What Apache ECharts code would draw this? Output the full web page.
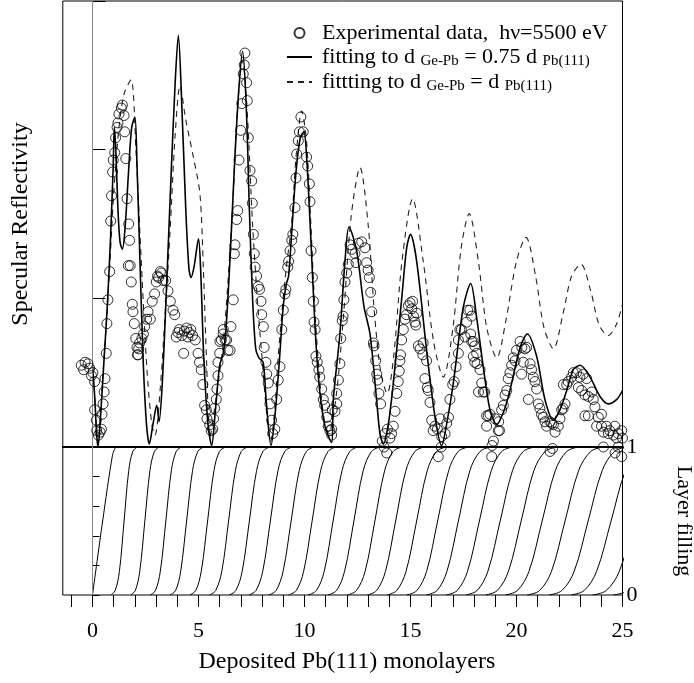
<!DOCTYPE html>
<html><head><meta charset="utf-8">
<script src="https://cdn.jsdelivr.net/npm/echarts@6/dist/echarts.min.js"></script>
<style>html,body{margin:0;padding:0;background:#fff}#c{width:694px;height:683px}</style>
</head><body><div id="c"></div>
<script>
const FONT = "'Liberation Serif','Times New Roman',serif";
const xTickLabels = [0, 5, 10, 15, 20, 25];
const fillTickLabels = [0, 1];

const nameExp = 'Experimental data,  hν=5500 eV';
const nameFit1 = 'fitting to d Ge-Pb = 0.75 d Pb(111)';
const nameFit2 = 'fittting to d Ge-Pb = d Pb(111)';

const experimental = [
[-0.53,0.55],[-0.42,0.52],[-0.35,0.57],[-0.21,0.56],[-0.13,0.53],[-0.05,0.48],[0.02,0.50],[0.10,0.44],
[0.10,0.25],[0.18,0.18],[0.20,0.11],[0.28,0.08],[0.36,0.10],[0.42,0.12],[0.45,0.22],[0.50,0.29],[0.55,0.37],[0.59,0.46],
[0.65,0.63],[0.68,0.83],[0.73,0.99],[0.81,1.18],[0.86,1.52],[0.90,1.69],[0.95,1.85],[0.98,1.93],[1.05,1.98],[1.09,2.08],
[1.16,2.15],[1.20,2.18],[1.25,2.24],[1.36,2.28],[1.41,2.30],[1.49,2.23],[1.52,2.12],[1.57,1.94],[1.63,1.67],[1.69,1.22],
[1.71,1.50],[1.75,1.39],[1.78,1.22],[1.83,1.11],[1.88,0.96],[1.91,0.91],[1.97,0.83],[2.04,0.73],[2.10,0.67],[2.12,0.62],
[2.15,0.62],[2.18,0.66],[2.22,0.70],[2.33,0.73],[2.40,0.76],[2.46,0.81],[2.55,0.86],[2.62,0.91],[2.73,0.86],[2.82,0.98],
[2.93,1.03],[3.01,1.11],[3.07,1.15],[3.12,1.14],[3.20,1.18],[3.25,1.17],[3.33,1.12],[3.45,1.12],[3.56,1.05],[3.67,0.98],
[3.80,0.92],[3.88,0.89],[3.95,0.74],[4.03,0.77],[4.10,0.79],[4.22,0.75],[4.30,0.63],[4.33,0.78],[4.44,0.80],[4.50,0.74],
[4.56,0.77],[4.64,0.79],[4.72,0.75],[4.85,0.72],[4.98,0.63],[5.05,0.57],[5.13,0.52],[5.21,0.42],[5.29,0.28],[5.37,0.25],
[5.40,0.19],[5.53,0.15],[5.60,0.11],[5.67,0.12],[5.71,0.19],[5.76,0.26],[5.84,0.32],[5.87,0.39],[5.92,0.48],[5.92,0.57],
[6.00,0.63],[6.01,0.71],[6.08,0.72],[6.16,0.76],[6.17,0.79],[6.26,0.72],[6.33,0.72],[6.39,0.65],[6.49,0.65],[6.53,0.81],
[6.64,0.99],[6.69,1.30],[6.72,1.36],[6.80,1.53],[6.85,1.59],[6.91,1.93],[6.99,2.13],[7.04,2.31],[7.11,2.51],[7.16,2.57],
[7.19,2.65],[7.27,2.45],[7.30,2.33],[7.35,2.08],[7.43,1.86],[7.51,1.79],[7.54,1.64],[7.59,1.43],[7.63,1.30],[7.67,1.21],
[7.74,1.15],[7.82,1.08],[7.88,1.06],[7.95,0.98],[7.98,0.89],[8.06,0.81],[8.10,0.67],[8.18,0.57],[8.22,0.49],[8.29,0.43],
[8.37,0.29],[8.45,0.18],[8.50,0.09],[8.60,0.12],[8.69,0.32],[8.76,0.45],[8.84,0.54],[8.93,0.79],[9.00,0.92],[9.08,1.03],
[9.12,1.06],[9.21,1.21],[9.25,1.25],[9.32,1.32],[9.40,1.39],[9.45,1.43],[9.55,1.61],[9.60,1.81],[9.63,1.97],[9.71,2.06],
[9.76,2.12],[9.83,2.22],[9.94,2.12],[10.10,1.95],[10.15,1.89],[10.23,1.77],[10.26,1.65],[10.31,1.32],[10.37,1.14],[10.42,0.98],
[10.45,0.84],[10.50,0.79],[10.54,0.61],[10.60,0.57],[10.68,0.52],[10.72,0.47],[10.81,0.39],[10.89,0.32],[10.95,0.28],[11.05,0.20],
[11.12,0.14],[11.20,0.11],[11.28,0.08],[11.31,0.25],[11.28,0.12],[11.44,0.24],[11.52,0.29],[11.52,0.36],[11.60,0.45],[11.67,0.56],
[11.71,0.73],[11.78,0.85],[11.82,0.88],[11.86,0.99],[11.91,1.11],[11.99,1.17],[12.07,1.23],[12.15,1.36],[12.23,1.33],[12.38,1.30],
[12.43,1.24],[12.54,1.37],[12.70,1.38],[12.85,1.34],[12.93,1.24],[13.00,1.19],[13.06,1.14],[13.12,1.04],[13.17,0.91],[13.25,0.70],
[13.28,0.68],[13.36,0.58],[13.41,0.49],[13.45,0.45],[13.51,0.36],[13.59,0.29],[13.67,0.04],[13.75,0.00],[13.80,0.09],[13.88,-0.04],
[13.91,0.12],[14.03,0.06],[14.11,0.09],[14.19,0.14],[14.27,0.24],[14.35,0.36],[14.42,0.44],[14.47,0.51],[14.50,0.58],[14.53,0.62],
[14.58,0.72],[14.66,0.79],[14.74,0.86],[14.81,0.89],[14.90,0.95],[14.98,0.97],[15.06,0.93],[15.10,0.98],[15.14,0.88],[15.21,0.84],
[15.25,0.82],[15.30,0.90],[15.37,0.68],[15.45,0.66],[15.58,0.62],[15.60,0.70],[15.68,0.46],[15.76,0.58],[15.79,0.40],[15.84,0.38],
[15.92,0.30],[16.00,0.18],[16.07,0.11],[16.15,0.14],[16.27,0.12],[16.31,-0.065],[16.40,0.19],[16.45,0.00],[16.47,0.07],[16.63,0.09],
[16.71,0.16],[16.79,0.20],[16.86,0.32],[16.99,0.42],[17.06,0.44],[17.15,0.54],[17.26,0.63],[17.26,0.72],[17.33,0.79],[17.40,0.79],
[17.57,0.74],[17.65,0.84],[17.70,0.92],[17.80,0.92],[17.84,0.76],[17.88,0.88],[17.89,0.71],[17.96,0.71],[17.96,0.61],[18.03,0.68],
[18.03,0.57],[18.12,0.63],[18.14,0.56],[18.21,0.37],[18.28,0.52],[18.36,0.43],[18.43,0.37],[18.50,0.37],[18.59,0.21],[18.67,0.21],
[18.75,0.22],[18.59,0.14],[18.83,-0.065],[18.85,0.01],[18.91,0.04],[19.00,0.19],[19.16,0.17],[19.14,0.11],[19.20,0.11],[19.30,0.25],
[19.38,0.28],[19.46,0.35],[19.54,0.38],[19.61,0.46],[19.69,0.50],[19.77,0.55],[19.85,0.60],[19.93,0.58],[20.00,0.65],[20.17,0.71],
[20.25,0.67],[20.32,0.57],[20.40,0.66],[20.48,0.67],[20.24,0.49],[20.64,0.56],[20.71,0.52],[20.79,0.47],[20.87,0.44],[20.95,0.39],
[20.56,0.32],[21.03,0.29],[21.10,0.26],[21.18,0.22],[21.26,0.20],[21.34,0.17],[21.42,0.14],[21.58,0.17],[21.58,-0.03],[21.66,0.16],
[21.70,-0.01],[21.74,0.15],[21.82,0.10],[21.97,0.14],[22.05,0.19],[22.13,0.25],[22.20,0.26],[22.29,0.29],[22.21,0.42],[22.37,0.42],
[22.44,0.44],[22.60,0.47],[22.68,0.50],[22.83,0.50],[22.99,0.47],[23.15,0.49],[23.31,0.46],[22.92,0.40],[23.07,0.38],[23.23,0.35],
[23.39,0.34],[23.55,0.37],[23.23,0.21],[23.39,0.21],[23.62,0.32],[23.70,0.27],[23.86,0.20],[24.01,0.22],[23.78,0.14],[24.01,0.14],
[24.10,0.10],[24.10,0.00],[24.25,0.14],[24.33,0.09],[24.40,0.11],[24.57,0.08],[24.64,0.14],[24.65,-0.04],[24.72,0.06],[24.80,0.09],
[24.80,0.00],[24.96,0.11],[24.96,-0.065],[25.00,0.06]
];

const fitSolid = [
[0,0.55],[0.1,0.35],[0.2,0.08],[0.26,0.0],[0.4,0.25],[0.55,0.6],[0.7,0.95],[0.85,1.4],[0.98,1.9],[1.03,2.15],
[1.1,2.0],[1.2,1.6],[1.3,1.38],[1.41,1.33],[1.55,1.5],[1.7,1.85],[1.85,2.15],[2.0,2.22],[2.1,1.9],[2.25,1.2],
[2.4,0.55],[2.55,0.15],[2.68,0.02],[2.85,0.15],[3.03,0.28],[3.14,0.17],[3.3,0.45],[3.5,1.1],[3.7,1.8],[3.9,2.45],
[4.05,2.77],[4.2,2.35],[4.4,1.6],[4.55,1.2],[4.65,1.14],[4.8,1.22],[5.0,1.40],[5.1,1.2],[5.25,0.6],[5.45,0.15],
[5.62,0.01],[5.8,0.25],[6.0,0.55],[6.17,0.63],[6.3,0.8],[6.5,1.3],[6.7,1.9],[6.9,2.4],[7.08,2.66],[7.25,2.3],
[7.4,1.6],[7.55,1.0],[7.7,0.66],[7.85,0.6],[8.05,0.57],[8.2,0.3],[8.42,0.01],[8.6,0.2],[8.8,0.55],[9.0,0.95],
[9.15,1.1],[9.25,1.15],[9.4,1.45],[9.6,1.85],[9.8,2.08],[9.97,2.12],[10.1,1.95],[10.3,1.4],[10.5,0.8],[10.7,0.4],
[10.95,0.15],[11.28,0.03],[11.36,0.32],[11.67,0.76],[11.91,1.25],[12.1,1.48],[12.46,1.32],[12.8,0.95],[13.09,0.76],[13.4,0.32],
[13.56,0.09],[13.72,0.02],[13.95,0.15],[14.19,0.43],[14.58,0.99],[14.82,1.34],[15.0,1.43],[15.29,1.25],[15.76,0.65],[16.16,0.2],
[16.47,0.01],[16.7,0.15],[17.02,0.43],[17.49,0.94],[17.84,1.10],[18.12,0.87],[18.43,0.54],[18.75,0.25],[19.07,0.15],[19.4,0.24],
[19.69,0.38],[20.17,0.67],[20.51,0.76],[20.95,0.61],[21.34,0.32],[21.74,0.18],[22.05,0.25],[22.37,0.38],[22.68,0.52],[23.0,0.55],
[23.47,0.47],[23.94,0.34],[24.33,0.29],[24.73,0.32],[25.0,0.38]
];

const fitDashed = [
[0,0.55],[0.1,0.35],[0.25,0.02],[0.5,0.5],[0.75,1.05],[1.0,1.7],[1.25,2.15],[1.5,2.38],[1.82,2.47],[2.05,2.0],
[2.24,1.43],[2.56,0.54],[2.8,0.15],[2.95,0.08],[3.2,0.4],[3.45,0.95],[3.66,1.45],[3.9,2.1],[4.13,2.43],[4.4,2.2],
[4.76,1.95],[5.07,1.7],[5.23,1.2],[5.39,0.54],[5.54,0.07],[5.8,0.3],[6.2,0.75],[6.6,1.6],[6.85,2.3],[7.08,2.6],
[7.3,2.25],[7.55,1.5],[7.8,0.95],[7.98,0.63],[8.2,0.25],[8.4,0.04],[8.6,0.25],[8.77,0.63],[9.1,1.15],[9.4,1.52],
[9.6,1.95],[9.87,2.26],[10.1,2.05],[10.3,1.5],[10.5,0.9],[10.75,0.4],[11.0,0.12],[11.15,0.1],[11.5,0.35],[11.85,0.9],
[12.2,1.55],[12.62,1.88],[13.0,1.5],[13.3,0.9],[13.6,0.5],[13.9,0.36],[14.2,0.6],[14.6,1.25],[15.1,1.67],[15.6,1.25],
[16.1,0.7],[16.55,0.47],[17.0,0.8],[17.4,1.35],[17.77,1.57],[18.2,1.25],[18.6,0.8],[19.07,0.6],[19.5,0.85],[20.0,1.25],
[20.45,1.41],[20.9,1.15],[21.3,0.8],[21.74,0.66],[22.2,0.9],[22.6,1.15],[23.04,1.23],[23.5,1.05],[23.9,0.82],[24.33,0.75],
[24.7,0.82],[25.0,0.96]
];

// layer filling: first layer, then x positions where each later layer reaches the fill levels below
const layerFirst = [[0,0],[0.48,0.5],[0.95,0.95],[1.1,1]];
const layerFillLevels = [0, 0.03, 0.16, 0.5, 0.84, 0.97, 1];
const layerX = [
[0.87,1.07,1.27,1.49,1.71,1.90,2.10],
[1.80,2.02,2.23,2.47,2.71,2.92,3.14],
[2.73,2.97,3.20,3.46,3.72,3.95,4.19],
[3.66,3.92,4.16,4.44,4.72,4.97,5.23],
[4.59,4.87,5.13,5.43,5.73,5.99,6.27],
[5.52,5.81,6.10,6.42,6.74,7.02,7.31],
[6.45,6.76,7.06,7.40,7.74,8.04,8.35],
[7.38,7.71,8.03,8.39,8.75,9.07,9.40],
[8.31,8.66,8.99,9.37,9.75,10.09,10.44],
[9.24,9.61,9.96,10.36,10.76,11.11,11.48],
[10.17,10.56,10.93,11.35,11.77,12.14,12.52],
[11.10,11.51,11.89,12.33,12.77,13.16,13.56],
[12.03,12.45,12.86,13.32,13.78,14.18,14.61],
[12.96,13.40,13.82,14.30,14.78,15.21,15.65],
[13.89,14.35,14.79,15.29,15.79,16.23,16.69],
[14.82,15.30,15.76,16.28,16.80,17.25,17.73],
[15.75,16.25,16.72,17.26,17.80,18.28,18.77],
[16.68,17.20,17.69,18.25,18.81,19.30,19.82],
[17.61,18.14,18.65,19.23,19.81,20.32,20.86],
[18.54,19.09,19.62,20.22,20.82,21.35,21.90],
[19.47,20.04,20.59,21.21,21.83,22.37,22.94],
[20.50,21.09,21.65,22.29,22.93,23.50,24.08],
[21.53,22.14,22.72,23.38,24.04,24.62,25.23],
[22.56,23.19,23.78,24.46,25.14,25.74,26.37],
[23.59,24.23,24.85,25.55,26.25,26.87,27.51],
[24.57,25.23,25.87,26.59,27.31,27.94,28.60]
];

const chart = echarts.init(document.getElementById('c'), null, {renderer: 'canvas'});

const zeroLine = {
  silent: true, symbol: 'none', label: {show: false},
  lineStyle: {color: '#8a8a8a', width: 1, type: 'solid'},
  emphasis: {disabled: true},
  data: [{xAxis: 0}]
};

const series = [
  {
    name: nameExp, type: 'scatter', xAxisIndex: 0, yAxisIndex: 0, clip: false, z: 5,
    symbol: 'circle', symbolSize: 10,
    itemStyle: {color: 'rgba(0,0,0,0)', borderColor: '#000', borderWidth: 1},
    data: experimental
  },
  {
    name: nameFit1, type: 'line', xAxisIndex: 0, yAxisIndex: 0, smooth: 0.3, symbol: 'none', showSymbol: false,
    lineStyle: {color: '#000', width: 1.6}, itemStyle: {color: '#000'}, z: 3,
    markLine: zeroLine,
    data: fitSolid
  },
  {
    name: nameFit2, type: 'line', xAxisIndex: 0, yAxisIndex: 0, smooth: 0.3, symbol: 'none', showSymbol: false,
    lineStyle: {color: '#222', width: 1.1, type: [6, 5]}, itemStyle: {color: '#222'}, z: 2,
    data: fitDashed
  },
  {
    name: 'layer 1', type: 'line', xAxisIndex: 1, yAxisIndex: 1, smooth: 0.3, symbol: 'none', showSymbol: false,
    lineStyle: {color: '#000', width: 1}, markLine: zeroLine, data: layerFirst
  }
];
layerX.forEach(function (xs, i) {
  series.push({
    name: 'layer ' + (i + 2), type: 'line', xAxisIndex: 1, yAxisIndex: 1, smooth: 0.35,
    symbol: 'none', showSymbol: false, lineStyle: {color: '#000', width: 1},
    data: xs.map(function (x, j) { return [x, layerFillLevels[j]]; })
  });
});

const subStyle = {fontSize: 15, fontFamily: FONT, color: '#000', padding: [9, 0, 0, 0]};
const txtStyle = {fontSize: 22, fontFamily: FONT, color: '#000'};

chart.setOption({
  animation: false,
  backgroundColor: '#fff',
  textStyle: {fontFamily: FONT},
  grid: [
    {left: 62.8, top: 1, width: 559.7, height: 446, show: true, borderColor: '#000', borderWidth: 1, containLabel: false, outerBoundsMode: 'none'},
    {left: 62.8, top: 447, width: 559.7, height: 148, show: true, borderColor: '#000', borderWidth: 1, containLabel: false, outerBoundsMode: 'none'},
    {left: 71.3, top: 447, width: 551.2, height: 148, show: false, containLabel: false, outerBoundsMode: 'none'}
  ],
  xAxis: [
    {gridIndex: 0, type: 'value', min: -1.4, max: 25, show: false},
    {gridIndex: 1, type: 'value', min: -1.4, max: 25, position: 'top', show: true,
     axisLine: {show: true, onZero: false, lineStyle: {color: '#000', width: 2}},
     axisTick: {show: false}, axisLabel: {show: false}, splitLine: {show: false}},
    {gridIndex: 2, type: 'value', min: -1, max: 25, interval: 1, position: 'bottom',
     axisLine: {show: false}, splitLine: {show: false},
     axisTick: {show: true, inside: false, length: 12, lineStyle: {color: '#000', width: 1}},
     axisLabel: {show: true, margin: 25, fontSize: 22, fontFamily: FONT, color: '#000',
       formatter: function (v) { return xTickLabels.indexOf(v) >= 0 ? String(v) : ''; }},
     name: 'Deposited Pb(111) monolayers', nameLocation: 'middle', nameGap: 55, nameMoveOverlap: false,
     nameTextStyle: {fontSize: 24, fontFamily: FONT, color: '#000'}}
  ],
  yAxis: [
    {gridIndex: 0, type: 'value', min: 0, max: 3, interval: 1,
     axisLine: {show: false}, splitLine: {show: false},
     axisTick: {show: true, inside: true, length: 13, lineStyle: {color: '#000'}},
     axisLabel: {show: false},
     name: 'Specular Reflectivity', nameLocation: 'middle', nameRotate: 90, nameGap: 30, nameMoveOverlap: false,
     nameTextStyle: {fontSize: 24, fontFamily: FONT, color: '#000'}},
    {gridIndex: 1, type: 'value', min: 0, max: 1, interval: 0.2, position: 'right',
     axisLine: {show: false}, splitLine: {show: false},
     axisTick: {show: true, inside: false, length: 7, lineStyle: {color: '#000'}},
     axisLabel: {show: true, margin: 4, fontSize: 22, fontFamily: FONT, color: '#000',
       formatter: function (v) { return fillTickLabels.indexOf(v) >= 0 ? String(v) : ''; }},
     name: 'Layer filling', nameLocation: 'middle', nameRotate: -90, nameGap: 50, nameMoveOverlap: false,
     nameTextStyle: {fontSize: 22, fontFamily: FONT, color: '#000'}},
    {gridIndex: 2, type: 'value', min: 0, max: 1, show: false}
  ],
  legend: {
    show: true, orient: 'vertical', left: 286, top: 22, padding: 0, itemWidth: 25, itemHeight: 10, itemGap: 2,
    selectedMode: false,
    data: [
      {name: nameExp},
      {name: nameFit1, itemStyle: {opacity: 0}},
      {name: nameFit2, itemStyle: {opacity: 0}}
    ],
    textStyle: Object.assign({}, txtStyle, {padding: [0, 0, 0, 5], rich: {t: txtStyle, sub: subStyle}}),
    formatter: function (name) {
      if (name === nameFit1) return '{t|fitting to d }{sub|Ge-Pb}{t| = 0.75 d }{sub|Pb(111)}';
      if (name === nameFit2) return '{t|fittting to d }{sub|Ge-Pb}{t| = d }{sub|Pb(111)}';
      return '{t|' + name + '}';
    }
  },
  series: series
});
</script>
</body></html>
